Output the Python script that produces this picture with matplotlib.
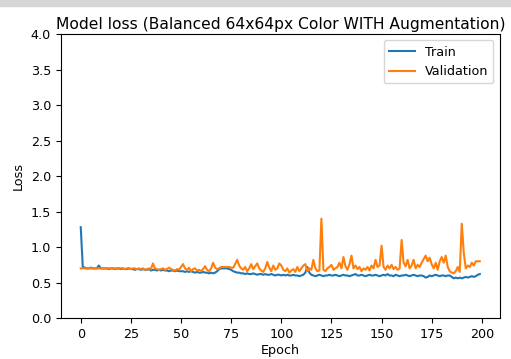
import matplotlib
matplotlib.use('Agg')
import matplotlib.pyplot as plt
from matplotlib.patches import Rectangle

# loss per epoch
train_loss = [
    1.28, 0.72, 0.71, 0.70, 0.70, 0.71, 0.70, 0.70, 0.70, 0.74,
    0.70, 0.70, 0.70, 0.70, 0.69, 0.70, 0.70, 0.69, 0.70, 0.70,
    0.69, 0.70, 0.69, 0.69, 0.70, 0.69, 0.69, 0.68, 0.69, 0.69,
    0.68, 0.69, 0.68, 0.68, 0.69, 0.67, 0.68, 0.68, 0.67, 0.68,
    0.67, 0.68, 0.67, 0.67, 0.66, 0.67, 0.67, 0.66, 0.67, 0.66,
    0.66, 0.66, 0.65, 0.66, 0.65, 0.66, 0.65, 0.64, 0.65, 0.64,
    0.64, 0.65, 0.64, 0.64, 0.63, 0.64, 0.63, 0.64, 0.66, 0.69,
    0.70, 0.70, 0.70, 0.70, 0.69, 0.68, 0.66, 0.65, 0.64, 0.64,
    0.63, 0.63, 0.62, 0.63, 0.62, 0.62, 0.63, 0.62, 0.61, 0.62,
    0.62, 0.61, 0.62, 0.61, 0.61, 0.62, 0.61, 0.60, 0.61, 0.61,
    0.60, 0.61, 0.60, 0.61, 0.60, 0.60, 0.61, 0.60, 0.60, 0.59,
    0.60, 0.61, 0.64, 0.72, 0.64, 0.61, 0.60, 0.59, 0.60, 0.61,
    0.60, 0.59, 0.60, 0.60, 0.61, 0.60, 0.60, 0.61, 0.60, 0.59,
    0.60, 0.61, 0.60, 0.60, 0.59, 0.60, 0.61, 0.62, 0.60, 0.60,
    0.61, 0.60, 0.59, 0.60, 0.61, 0.60, 0.60, 0.61, 0.60, 0.59,
    0.60, 0.61, 0.60, 0.62, 0.60, 0.60, 0.59, 0.61, 0.60, 0.59,
    0.60, 0.60, 0.61, 0.60, 0.59, 0.60, 0.61, 0.60, 0.59, 0.60,
    0.60, 0.59, 0.57, 0.58, 0.60, 0.59, 0.60, 0.61, 0.60, 0.59,
    0.60, 0.60, 0.59, 0.60, 0.60, 0.58, 0.56, 0.57, 0.56, 0.57,
    0.56, 0.57, 0.58, 0.57, 0.58, 0.59, 0.58, 0.59, 0.61, 0.62,
]
val_loss = [
    0.70, 0.70, 0.70, 0.70, 0.70, 0.70, 0.70, 0.70, 0.70, 0.70,
    0.70, 0.70, 0.70, 0.70, 0.70, 0.70, 0.70, 0.70, 0.69, 0.70,
    0.70, 0.70, 0.69, 0.70, 0.70, 0.69, 0.70, 0.70, 0.69, 0.70,
    0.69, 0.70, 0.68, 0.69, 0.70, 0.69, 0.77, 0.70, 0.69, 0.68,
    0.69, 0.70, 0.68, 0.69, 0.71, 0.69, 0.68, 0.67, 0.69, 0.68,
    0.72, 0.76, 0.70, 0.68, 0.71, 0.66, 0.69, 0.70, 0.67, 0.68,
    0.66, 0.69, 0.73, 0.68, 0.66, 0.70, 0.78, 0.71, 0.69, 0.70,
    0.72, 0.72, 0.72, 0.72, 0.72, 0.71, 0.71, 0.76, 0.82, 0.74,
    0.70, 0.68, 0.72, 0.66, 0.70, 0.76, 0.69, 0.73, 0.77, 0.70,
    0.67, 0.65, 0.70, 0.79, 0.71, 0.66, 0.74, 0.68, 0.70, 0.77,
    0.74, 0.68, 0.66, 0.70, 0.64, 0.67, 0.69, 0.65, 0.72, 0.66,
    0.70, 0.74, 0.76, 0.66, 0.70, 0.68, 0.82, 0.70, 0.66, 0.67,
    1.40, 0.68, 0.66, 0.70, 0.72, 0.75, 0.68, 0.70, 0.72, 0.78,
    0.70, 0.86, 0.73, 0.68, 0.76, 0.88, 0.70, 0.74, 0.69, 0.72,
    0.66, 0.70, 0.68, 0.72, 0.67, 0.74, 0.70, 0.82, 0.72, 0.74,
    1.02, 0.72, 0.68, 0.74, 0.70, 0.75, 0.69, 0.72, 0.68, 0.70,
    1.10, 0.78, 0.73, 0.82, 0.70, 0.74, 0.82, 0.70, 0.75, 0.72,
    0.78, 0.83, 0.88, 0.80, 0.85, 0.76, 0.70, 0.78, 0.68, 0.80,
    0.86, 0.78, 0.88, 0.72, 0.66, 0.64, 0.63, 0.66, 0.72, 0.65,
    1.33, 0.92, 0.70, 0.74, 0.72, 0.78, 0.74, 0.80, 0.80, 0.80,
]
title = 'Model loss (Balanced 64x64px Color WITH Augmentation)'

fig = plt.figure(figsize=(5.11, 3.59), dpi=100)
ax = fig.add_axes([0.119, 0.114, 0.859, 0.791])

ax.plot(train_loss, lw=1.5, label='Train')
ax.plot(val_loss, lw=1.5, label='Validation')

ax.set_ylim(0, 4.0)
ax.set_xticks(range(0, 201, 25))
ax.set_title(title, fontsize=11.2, pad=4)
ax.set_xlabel('Epoch', fontsize=9.2, labelpad=2)
ax.set_ylabel('Loss', fontsize=9.2)
ax.tick_params(labelsize=9.2)
ax.legend(loc='upper right', fontsize=9.2)

# grey strip of the notebook cell above the figure
fig.add_artist(Rectangle((0, 1 - 6 / 359), 1, 6 / 359,
                         transform=fig.transFigure, color='#d6d6d6', zorder=0))

fig.savefig('out.png', dpi=100)
